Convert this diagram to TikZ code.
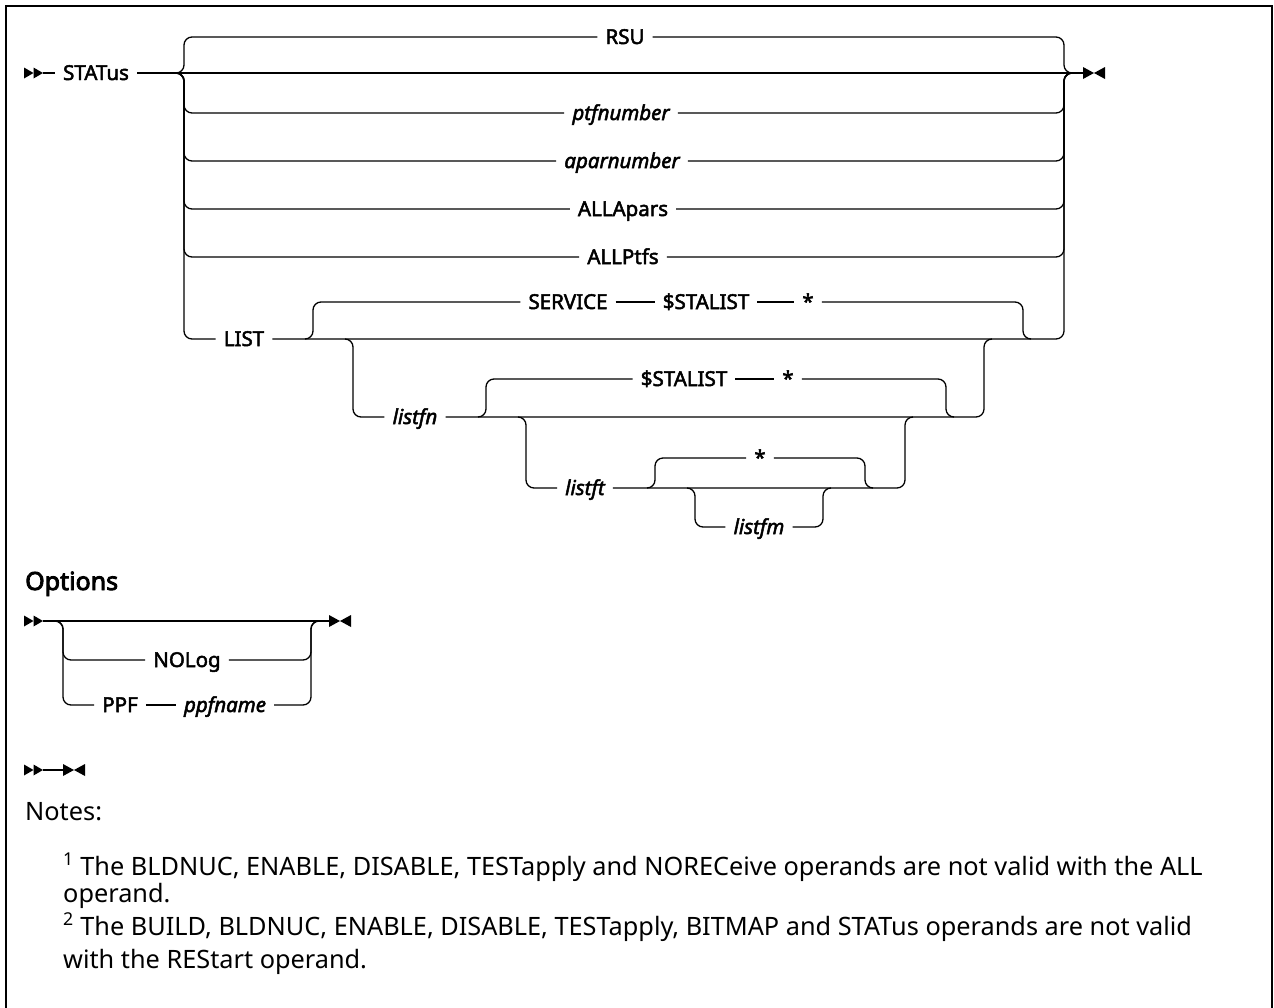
\documentclass[tikz,border=0pt]{standalone}
\usepackage{fontspec}
\setmainfont{Noto Sans}
\newfontfamily\kwfont{Noto Sans}[FakeBold=2.4]
\newfontfamily\hdfont{Noto Sans}[FakeBold=3.4]
\begin{document}
\begin{tikzpicture}[x=1pt,y=-1pt,
  ln/.style={line width=1.3pt, rounded corners=8pt},
  kw/.style={inner xsep=8pt, inner ysep=0pt, text height=14pt, text depth=0pt, font=\kwfont\fontsize{20.5}{24}\selectfont},
  var/.style={kw, font=\kwfont\itshape\fontsize{20.5}{24}\selectfont},
  note/.style={anchor=base west, inner sep=0pt, font=\fontsize{25.3}{30}\selectfont},
  dblarrow/.pic={\fill (0,-5.5) -- (9.5,0) -- (0,5.5) -- cycle; \fill (9.5,-5.5) -- (19,0) -- (9.5,5.5) -- cycle;},
  endarrow/.pic={\fill (0,-6) -- (11,0) -- (0,6) -- cycle; \fill (22,-6) -- (11,0) -- (22,6) -- cycle;}]
\useasboundingbox (0,0) rectangle (1274,1007);
\draw[line width=2pt] (6,6) rectangle (1272,1040);

% ---------- main line ----------
\pic at (24,73) {dblarrow};
\coordinate (ms) at (43,73);
\node[kw] (status) at (96,73) {STATus};
\coordinate (jL) at (176,73);   \coordinate (jLv) at (184,73);
\coordinate (jR) at (1072,73);  \coordinate (jRv) at (1064,73);
\coordinate (me) at (1083,73);
\draw[ln] (ms) -- (status);
\draw[ln] (status) -- (jL) -- (jR) -- (me);
\pic at (1083,73) {endarrow};

\node[kw]  (rsu)   at (625,37)  {RSU};
\node[var] (ptf)   at (621,113) {ptfnumber};
\node[var] (apar)  at (622,161) {aparnumber};
\node[kw]  (alla)  at (623,209) {ALLApars};
\node[kw]  (allp)  at (623,257) {ALLPtfs};
\node[kw]  (list)  at (244,339) {LIST};

\foreach \n in {rsu,ptf,apar,alla,allp}{
  \draw[ln] (jL) -- (jLv) |- (\n);
  \draw[ln] (\n) -| (jRv) -- (jR);
}
\draw[ln] (jL) -- (jLv) |- (list);

% ---------- LIST level ----------
\coordinate (jL2) at (305,339);  \coordinate (jL2v) at (313,339);
\coordinate (jL2b) at (345,339); \coordinate (jL2bv) at (353,339);
\coordinate (jR2) at (1031,339); \coordinate (jR2v) at (1023,339);
\coordinate (jR2b) at (992,339); \coordinate (jR2bv) at (984,339);
\draw[ln] (list) -- (jL2) -- (jR2) -| (jRv) -- (jR);

\node[kw] (service) at (568,302) {SERVICE};
\node[kw] (sta1)    at (706,302) {\$STALIST};
\node[kw] (star1)   at (808,302) {*};
\draw[ln] (jL2) -- (jL2v) |- (service);
\draw[ln] (service) -- (sta1);
\draw[ln] (sta1) -- (star1);
\draw[ln] (star1) -| (jR2v) -- (jR2);

\node[var] (listfn) at (415,417) {listfn};
\draw[ln] (jL2b) -- (jL2bv) |- (listfn);

% ---------- listfn level ----------
\coordinate (jL3) at (478,417);  \coordinate (jL3v) at (486,417);
\coordinate (jL3b) at (518,417); \coordinate (jL3bv) at (526,417);
\coordinate (jR3) at (954,417);  \coordinate (jR3v) at (946,417);
\coordinate (jR3b) at (913,417); \coordinate (jR3bv) at (905,417);
\draw[ln] (listfn) -- (jL3) -- (jR3) -| (jR2bv) -- (jR2b);

\node[kw] (sta2)  at (684,379) {\$STALIST};
\node[kw] (star2) at (788,379) {*};
\draw[ln] (jL3) -- (jL3v) |- (sta2);
\draw[ln] (sta2) -- (star2);
\draw[ln] (star2) -| (jR3v) -- (jR3);

\node[var] (listft) at (585,488) {listft};
\draw[ln] (jL3b) -- (jL3bv) |- (listft);

% ---------- listft level ----------
\coordinate (jL4) at (647,488);  \coordinate (jL4v) at (655,488);
\coordinate (jL4b) at (687,488); \coordinate (jL4bv) at (695,488);
\coordinate (jR4) at (873,488);  \coordinate (jR4v) at (865,488);
\coordinate (jR4b) at (831,488); \coordinate (jR4bv) at (823,488);
\draw[ln] (listft) -- (jL4) -- (jR4) -| (jR3bv) -- (jR3b);

\node[kw] (star3) at (760,458) {*};
\draw[ln] (jL4) -- (jL4v) |- (star3);
\draw[ln] (star3) -| (jR4v) -- (jR4);

\node[var] (listfm) at (759,527) {listfm};
\draw[ln] (jL4b) -- (jL4bv) |- (listfm);
\draw[ln] (listfm) -| (jR4bv) -- (jR4b);

% ---------- Options ----------
\node[anchor=base west, inner sep=0pt, font=\hdfont\fontsize{25}{29}\selectfont] (opt) at (25,590) {Options};
\pic at (24,621) {dblarrow};
\coordinate (os) at (43,621);
\coordinate (joL) at (55,621);  \coordinate (joLv) at (63,621);
\coordinate (joR) at (319,621); \coordinate (joRv) at (311,621);
\coordinate (oe) at (329,621);
\draw[ln] (os) -- (joL) -- (joR) -- (oe);
\pic at (329,621) {endarrow};

\node[kw]  (nolog)   at (187,660) {NOLog};
\node[kw]  (ppf)     at (120,705) {PPF};
\node[var] (ppfname) at (225,705) {ppfname};
\draw[ln] (joL) -- (joLv) |- (nolog);
\draw[ln] (nolog) -| (joRv) -- (joR);
\draw[ln] (joL) -- (joLv) |- (ppf);
\draw[ln] (ppf) -- (ppfname);
\draw[ln] (ppfname) -| (joRv) -- (joR);

% ---------- empty diagram ----------
\pic at (24,770) {dblarrow};
\coordinate (b1) at (43,770);
\coordinate (b2) at (63,770);
\draw[ln] (b1) -- (b2);
\pic at (63,770) {endarrow};

% ---------- notes ----------
\node[note] (notes) at (25,820) {Notes:};
\node[note] (n1)  at (63,875) {\textsuperscript{1} The BLDNUC, ENABLE, DISABLE, TESTapply and NORECeive operands are not valid with the ALL};
\node[note] (n1b) at (63,902) {operand.};
\node[note] (n2)  at (63,935) {\textsuperscript{2} The BUILD, BLDNUC, ENABLE, DISABLE, TESTapply, BITMAP and STATus operands are not valid};
\node[note] (n2b) at (63,968) {with the REStart operand.};
\end{tikzpicture}
\end{document}
